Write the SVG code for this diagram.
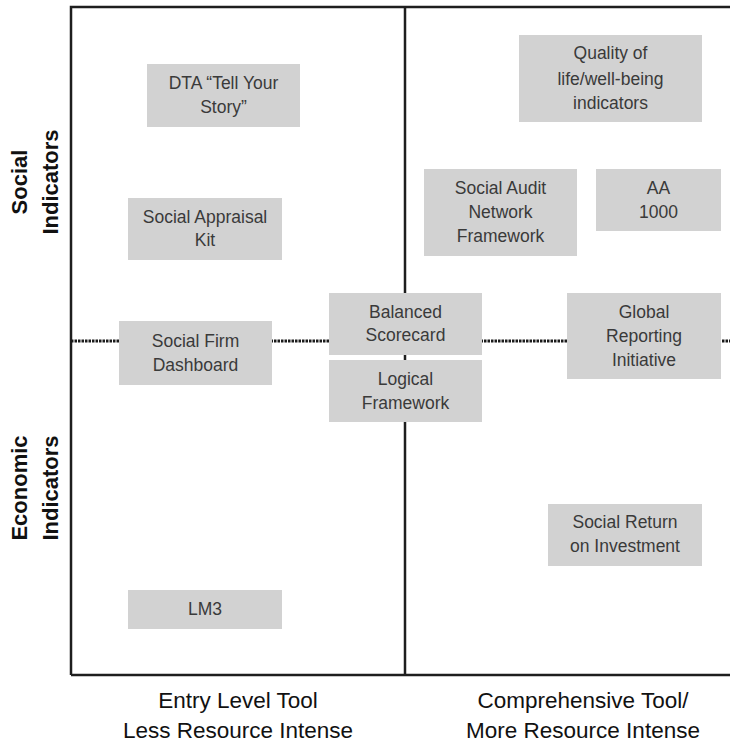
<svg xmlns="http://www.w3.org/2000/svg" width="730" height="744" viewBox="0 0 730 744">
<style>
.box{fill:#d2d2d2;}
.bt{font-family:"Liberation Sans",Arial,sans-serif;font-size:17.5px;fill:#3a3a3a;text-anchor:middle;}
.ax{font-family:"Liberation Sans",Arial,sans-serif;font-size:22px;font-weight:bold;fill:#111;text-anchor:middle;}
.bl{font-family:"Liberation Sans",Arial,sans-serif;font-size:22.5px;fill:#111;text-anchor:middle;}
.frame{fill:none;stroke:#1e1e1e;stroke-width:2.5;}
.dot{stroke:#1a1a1a;stroke-width:3;stroke-dasharray:2.5 1;fill:none;}
</style>
<rect width="730" height="744" fill="#fff"/>
<g id="connectors">
<path class="frame" d="M71,675 V7 H730"/>
<path class="frame" d="M71,675 H730"/>
<path class="frame" d="M405,7 V675"/>
<path class="dot" d="M71,341 H730"/>
</g>
<g id="dta"><rect class="box" x="147" y="64" width="153" height="63"/><text class="bt" x="223.5" y="89">DTA “Tell Your</text><text class="bt" x="223.5" y="113">Story”</text></g>
<g id="sak"><rect class="box" x="128" y="198" width="154" height="62"/><text class="bt" x="205" y="223">Social Appraisal</text><text class="bt" x="205" y="246">Kit</text></g>
<g id="sfd"><rect class="box" x="119" y="321" width="153" height="64"/><text class="bt" x="195.5" y="347">Social Firm</text><text class="bt" x="195.5" y="371">Dashboard</text></g>
<g id="bsc"><rect class="box" x="329" y="293" width="153" height="62"/><text class="bt" x="405.5" y="318">Balanced</text><text class="bt" x="405.5" y="341">Scorecard</text></g>
<g id="lfw"><rect class="box" x="329" y="360" width="153" height="62"/><text class="bt" x="405.5" y="385">Logical</text><text class="bt" x="405.5" y="409">Framework</text></g>
<g id="qol"><rect class="box" x="519" y="35" width="183" height="87"/><text class="bt" x="610.5" y="59">Quality of</text><text class="bt" x="610.5" y="85">life/well-being</text><text class="bt" x="610.5" y="109">indicators</text></g>
<g id="san"><rect class="box" x="424" y="169" width="153" height="87"/><text class="bt" x="500.5" y="194">Social Audit</text><text class="bt" x="500.5" y="218">Network</text><text class="bt" x="500.5" y="242">Framework</text></g>
<g id="aa"><rect class="box" x="596" y="169" width="125" height="62"/><text class="bt" x="658.5" y="194">AA</text><text class="bt" x="658.5" y="218">1000</text></g>
<g id="gri"><rect class="box" x="567" y="293" width="154" height="86"/><text class="bt" x="644" y="318">Global</text><text class="bt" x="644" y="342">Reporting</text><text class="bt" x="644" y="366">Initiative</text></g>
<g id="sroi"><rect class="box" x="548" y="504" width="154" height="62"/><text class="bt" x="625" y="528">Social Return</text><text class="bt" x="625" y="552">on Investment</text></g>
<g id="lm3"><rect class="box" x="128" y="590" width="154" height="39"/><text class="bt" x="205" y="615">LM3</text></g>
<g id="ylab-social"><text class="ax" transform="translate(27,182) rotate(-90)">Social</text><text class="ax" transform="translate(58,182) rotate(-90)">Indicators</text></g>
<g id="ylab-econ"><text class="ax" transform="translate(27,488) rotate(-90)">Economic</text><text class="ax" transform="translate(58,488) rotate(-90)">Indicators</text></g>
<g id="xlab-left"><text class="bl" x="238" y="708">Entry Level Tool</text><text class="bl" x="238" y="738">Less Resource Intense</text></g>
<g id="xlab-right"><text class="bl" x="583" y="708">Comprehensive Tool/</text><text class="bl" x="583" y="738">More Resource Intense</text></g>
</svg>
